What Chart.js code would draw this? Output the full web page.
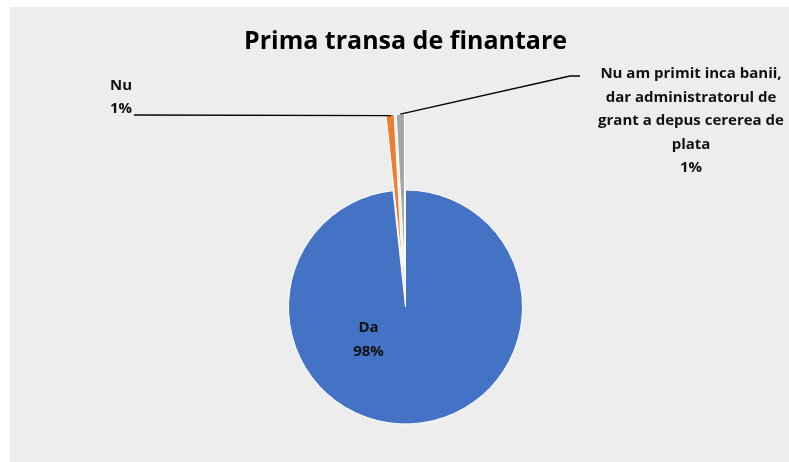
<!DOCTYPE html>
<html lang="ro">
<head>
    <meta charset="UTF-8">
    <title>Prima transa de finantare</title>
    <script src="https://cdn.jsdelivr.net/npm/chart.js"></script>
    <style>
        body {
            margin: 0;
            background: #ffffff;
        }
        #chartBox {
            position: absolute;
            left: 10px;
            top: 7px;
            width: 779px;
            height: 455px;
            background: #ededed;
        }
    </style>
</head>
<body>
<div id="chartBox">
    <canvas id="pieCanvas"></canvas>
</div>
<script>
    // categories (wrapped the way the labels show them) and their shares
    var categories = [
        ['Da'],
        ['Nu'],
        ['Nu am primit inca banii,', 'dar administratorul de', 'grant a depus cererea de', 'plata']
    ];
    var values = [98.3, 0.85, 0.85];
    var sliceColors = ['#4472c4', '#ed7d31', '#a5a5a5'];

    var total = values.reduce(function (a, b) { return a + b; }, 0);
    function pct(i) { return Math.round(values[i] / total * 100) + '%'; }

    var labelFont = 'bold 15px "Open Sans"';
    var lineGap = 23.5;
    var explode = [0, 40, 40];   // how far the thin slices are pulled out
    var stretch = [0, 36, 36];   // and how much longer they get

    // the built-in "offset" collapses very thin slices in v4.5, so pull them out here
    var explodeSlices = {
        id: 'explodeSlices',
        afterDatasetUpdate: function (chart, args) {
            args.meta.data.forEach(function (arc, i) {
                if (!explode[i]) return;
                var mid = (arc.startAngle + arc.endAngle) / 2;
                arc.x += Math.cos(mid) * explode[i];
                arc.y += Math.sin(mid) * explode[i];
                arc.outerRadius += stretch[i];
            });
        }
    };

    function sliceTip(arc) {
        var mid = (arc.startAngle + arc.endAngle) / 2;
        return { x: arc.x + Math.cos(mid) * arc.outerRadius, y: arc.y + Math.sin(mid) * arc.outerRadius };
    }

    var pieLabels = {
        id: 'pieLabels',
        afterDraw: function (chart) {
            var ctx = chart.ctx;
            var arcs = chart.getDatasetMeta(0).data;
            ctx.save();
            ctx.font = labelFont;
            ctx.fillStyle = '#111';
            ctx.textBaseline = 'alphabetic';

            // Da, inside the pie
            var c = arcs[0];
            ctx.textAlign = 'center';
            ctx.fillText(categories[0][0], c.x - 37, c.y + 25);
            ctx.fillText(pct(0), c.x - 37, c.y + 25 + lineGap);

            // Nu, top left with a leader line
            ctx.textAlign = 'left';
            ctx.fillText(categories[1][0], 100, 82.5);
            ctx.fillText(pct(1), 100, 82.5 + lineGap);
            var t1 = sliceTip(arcs[1]);
            ctx.strokeStyle = '#000';
            ctx.lineWidth = 1.3;
            ctx.beginPath();
            ctx.moveTo(124, 108);
            ctx.lineTo(t1.x + 1, t1.y + 1);
            ctx.stroke();

            // long category, top right
            ctx.textAlign = 'center';
            var lines = categories[2].concat([pct(2)]);
            lines.forEach(function (s, k) {
                ctx.fillText(s, 681, 71 + k * lineGap);
            });
            var t2 = sliceTip(arcs[2]);
            ctx.beginPath();
            ctx.moveTo(t2.x, t2.y);
            ctx.lineTo(560, 69);
            ctx.lineTo(570, 69);
            ctx.stroke();
            ctx.restore();
        }
    };

    var ctx = document.getElementById('pieCanvas').getContext('2d');
    var myChart = new Chart(ctx, {
        type: 'pie',
        data: {
            labels: categories.map(function (l) { return l.join(' '); }),
            datasets: [{
                data: values,
                backgroundColor: sliceColors,
                borderColor: '#ffffff',
                borderWidth: 1
            }]
        },
        options: {
            responsive: true,
            maintainAspectRatio: false,
            animation: false,
            radius: 117,
            layout: {
                padding: { left: 12, right: 0, top: 0, bottom: 0 }
            },
            plugins: {
                legend: { display: false },
                tooltip: { enabled: false },
                title: {
                    display: true,
                    text: 'Prima transa de finantare',
                    color: '#000',
                    font: { family: 'Open Sans', size: 25, weight: 'bold', lineHeight: 1.2 },
                    padding: { top: 20, bottom: 95 }
                }
            }
        },
        plugins: [explodeSlices, pieLabels]
    });
</script>
</body>
</html>
